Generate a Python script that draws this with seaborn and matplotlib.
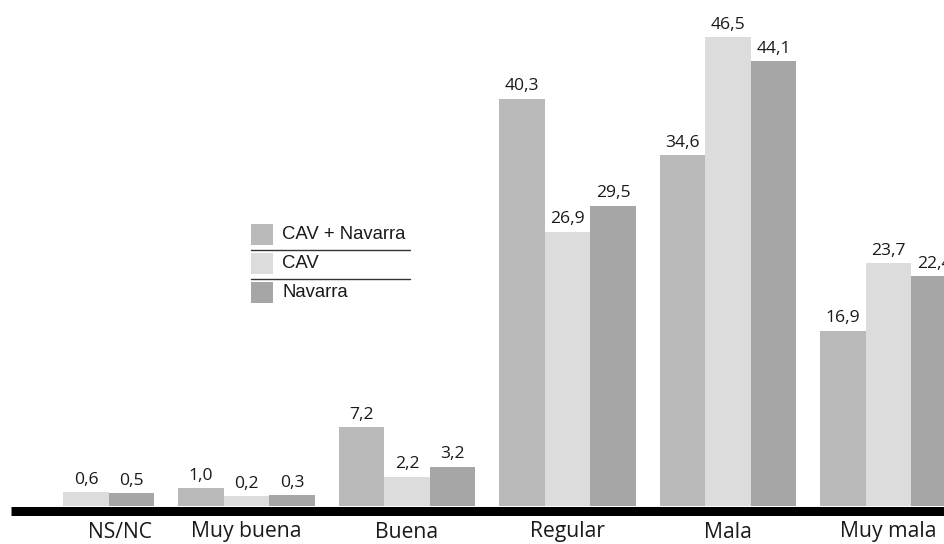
import pandas as pd
import numpy as np
import matplotlib
matplotlib.use("Agg")
import matplotlib.pyplot as plt
from matplotlib.patches import Rectangle
from matplotlib.lines import Line2D
import seaborn as sns


categories = ["NS/NC", "Muy buena", "Buena", "Regular", "Mala", "Muy mala"]
series = ["CAV + Navarra", "CAV", "Navarra"]
cav_navarra = [np.nan, 1.0, 7.2, 40.3, 34.6, 16.9]
cav = [0.6, 0.2, 2.2, 26.9, 46.5, 23.7]
navarra = [0.5, 0.3, 3.2, 29.5, 44.1, 22.4]
colors = ["#b9b9b9", "#dcdcdc", "#a6a6a6"]

W, H = 944, 544
ZERO_PX = 498.4   # pixel row of value 0
UNIT_PX = 9.92    # pixels per unit
BASE = -0.77      # bars start under the zero, on the black base line


def px(x, y):
    # pixel (from top-left) -> figure fraction
    return x / W, 1 - y / H


def make_chart():
    df = pd.DataFrame({
        "categoria": categories * 3,
        "serie": [s for s in series for _ in categories],
        "valor": cav_navarra + cav + navarra,
    })

    sns.set_style("white")
    plt.rcParams["font.family"] = ["Open Sans", "DejaVu Sans"]

    fig = plt.figure(figsize=(W / 100, H / 100), dpi=100)
    ax = fig.add_axes([0, 0, 1, 1])

    sns.barplot(data=df, x="categoria", y="valor", hue="serie",
                order=categories, hue_order=series, palette=colors,
                saturation=1, width=0.85, errorbar=None, linewidth=0,
                legend=False, ax=ax)

    ax.set_xlim(-86 / 160.5, (W - 86) / 160.5)
    ax.set_ylim(-(H - ZERO_PX) / UNIT_PX, ZERO_PX / UNIT_PX)
    ax.axis("off")

    # value labels, and extend bars down to the base line
    for cont in ax.containers:
        for bar in cont:
            h = bar.get_height()
            if np.isnan(h):
                continue
            bar.set_y(BASE)
            bar.set_height(h - BASE)
            ax.annotate(f"{h:.1f}".replace(".", ","),
                        (bar.get_x() + bar.get_width() / 2, h),
                        xytext=(0, 6), textcoords="offset points",
                        ha="center", va="baseline", fontsize=12.6,
                        color="#1a1a1a")

    # category labels
    for i, cat in enumerate(categories):
        xpos = i + (0.21 if i == 0 else 0)
        ax.text(xpos, -(532 - ZERO_PX) / UNIT_PX, cat, ha="center",
                va="center", fontsize=15.2, color="#1a1a1a")

    # thick base line
    x0, y0 = px(11, 510.5)
    x1, _ = px(W, 510.5)
    fig.add_artist(Line2D([x0, x1], [y0, y0], color="black",
                          linewidth=9 * 0.72, solid_capstyle="butt"))

    # legend
    tops = [224, 253, 282]
    for k, name in enumerate(series):
        lx, ly = px(251, tops[k] + 21)
        fig.add_artist(Rectangle((lx, ly), 22 / W, 21 / H,
                                 transform=fig.transFigure,
                                 facecolor=colors[k], edgecolor="none"))
        tx, ty = px(282, tops[k] + 10.5)
        fig.text(tx, ty, name, ha="left", va="center", fontsize=13.3,
                 family=["Liberation Sans", "DejaVu Sans"], color="#1a1a1a")
    for yl in [250, 279]:
        a, b = px(251, yl)
        c, _ = px(410, yl)
        fig.add_artist(Line2D([a, c], [b, b], color="#333333", linewidth=1))

    fig.savefig("out.png", dpi=100)


if __name__ == "__main__":
    make_chart()
